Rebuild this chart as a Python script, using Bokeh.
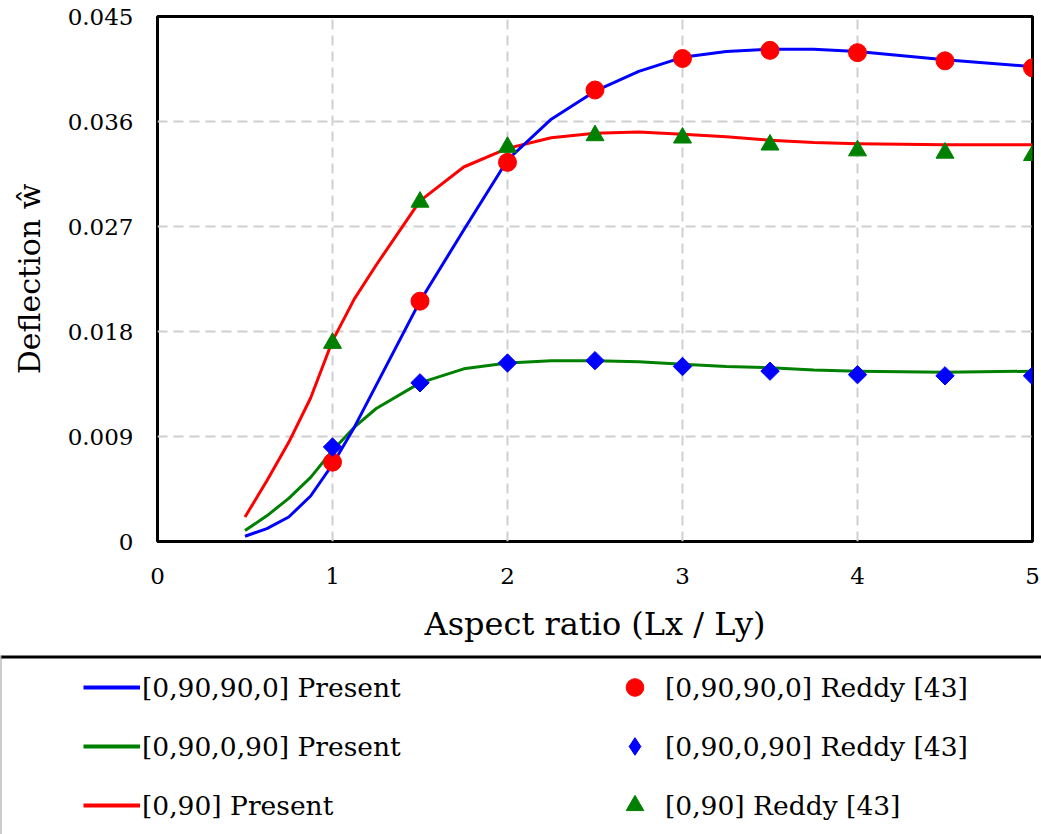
from bokeh.plotting import figure
from bokeh.models import (FixedTicker, CustomJSTickFormatter, Legend, LegendItem, Span)
from bokeh.embed import file_html
from bokeh.resources import INLINE

# ---- data ----
x_present = [0.5, 0.625, 0.75, 0.875, 1.0, 1.125, 1.25, 1.5, 1.75, 2.0, 2.25,
             2.5, 2.75, 3.0, 3.25, 3.5, 3.75, 4.0, 4.5, 5.0]
w_0_90_90_0_present = [0.00045, 0.0011, 0.0021, 0.0039, 0.0066, 0.0098, 0.0134,
                       0.0206, 0.0267, 0.0327, 0.0362, 0.0386, 0.0403, 0.0415,
                       0.0420, 0.0422, 0.0422, 0.0420, 0.0413, 0.0407]
w_0_90_0_90_present = [0.00094, 0.0022, 0.0037, 0.0055, 0.0078, 0.0098, 0.0114,
                       0.0136, 0.0148, 0.0153, 0.0155, 0.0155, 0.0154, 0.0152,
                       0.0150, 0.0149, 0.0147, 0.0146, 0.0145, 0.0146]
w_0_90_present = [0.0021, 0.0052, 0.0085, 0.0123, 0.0172, 0.0208, 0.0237,
                  0.0292, 0.0321, 0.0337, 0.0346, 0.0350, 0.0351, 0.0349,
                  0.0347, 0.0344, 0.0342, 0.0341, 0.0340, 0.0340]

x_reddy = [1.0, 1.5, 2.0, 2.5, 3.0, 3.5, 4.0, 4.5, 5.0]
w_0_90_90_0_reddy = [0.0068, 0.0206, 0.0325, 0.0387, 0.0414, 0.0421, 0.0419,
                     0.0412, 0.0406]
w_0_90_0_90_reddy = [0.0081, 0.0136, 0.0153, 0.0155, 0.0150, 0.0146, 0.0143,
                     0.0142, 0.0142]
w_0_90_reddy = [0.0170, 0.0291, 0.0338, 0.0348, 0.0346, 0.0340, 0.0335,
                0.0333, 0.0331]

x_ticks = [0, 1, 2, 3, 4, 5]
y_ticks = [0, 0.009, 0.018, 0.027, 0.036, 0.045]

labels = ["[0,90,90,0] Present", "[0,90,0,90] Present", "[0,90] Present",
          "[0,90,90,0] Reddy [43]", "[0,90,0,90] Reddy [43]", "[0,90] Reddy [43]"]

FONT = "DejaVu Serif"
BLUE, GREEN, RED = "#0000FF", "#008000", "#FF0000"


def draw_series(fig, lw, diamond_kw):
    rg = fig.line(x_present, w_0_90_0_90_present, line_color=GREEN, line_width=lw,
                  line_join="round")
    rr = fig.line(x_present, w_0_90_present, line_color=RED, line_width=lw,
                  line_join="round")
    rb = fig.line(x_present, w_0_90_90_0_present, line_color=BLUE, line_width=lw,
                  line_join="round")
    mc = fig.scatter(x_reddy, w_0_90_90_0_reddy, marker="circle", size=18,
                     fill_color=RED, line_color=RED)
    md = fig.scatter(x_reddy, w_0_90_0_90_reddy, fill_color=BLUE, line_color=BLUE,
                     **diamond_kw)
    mt = fig.scatter(x_reddy, w_0_90_reddy, marker="triangle", size=18,
                     fill_color=GREEN, line_color=GREEN)
    return [rb, rg, rr, mc, md, mt]


# ---------------- main chart ----------------
p = figure(width=1041, height=655, x_range=(0, 5), y_range=(0, 0.045),
           output_backend="svg", toolbar_location=None,
           min_border_left=157, min_border_right=9, min_border_top=16,
           min_border_bottom=114)
p.background_fill_color = "white"
p.border_fill_color = "white"
p.outline_line_color = "black"
p.outline_line_width = 3

for ax in (p.xaxis[0], p.yaxis[0]):
    ax.axis_line_color = None
    ax.major_tick_line_color = None
    ax.minor_tick_line_color = None
    ax.major_tick_out = 0
    ax.major_tick_in = 0
    ax.major_label_text_font = FONT
    ax.major_label_text_font_size = "23px"
    ax.major_label_text_color = "black"
    ax.axis_label_text_font = FONT
    ax.axis_label_text_font_style = "normal"
    ax.axis_label_text_color = "black"

p.xaxis.ticker = FixedTicker(ticks=x_ticks)
p.yaxis.ticker = FixedTicker(ticks=y_ticks)
p.yaxis.formatter = CustomJSTickFormatter(code="return tick == 0 ? '0' : tick.toFixed(3);")
p.xaxis.axis_label = "Aspect ratio (Lx / Ly)"
p.yaxis.axis_label = "Deflection ŵ"
p.xaxis.axis_label_text_font_size = "32px"
p.yaxis.axis_label_text_font_size = "30px"
p.xaxis.major_label_standoff = 26
p.yaxis.major_label_standoff = 24
p.xaxis.axis_label_standoff = 18
p.yaxis.axis_label_standoff = 18

for g in (p.xgrid[0], p.ygrid[0]):
    g.grid_line_color = "#cfcfcf"
    g.grid_line_width = 2
    g.grid_line_dash = "10 6"

draw_series(p, 3, dict(marker="square", size=13, angle=0.785398))

# ---------------- legend panel (separate root; series lie outside its view) ----------------
q = figure(width=1041, height=179, x_range=(0, 1), y_range=(1, 2),
           output_backend="svg", toolbar_location=None,
           x_axis_type=None, y_axis_type=None,
           min_border_left=0, min_border_right=0, min_border_top=0,
           min_border_bottom=0)
q.xgrid.visible = False
q.ygrid.visible = False
q.outline_line_color = None
q.background_fill_color = "white"
q.border_fill_color = "white"
q.add_layout(Span(location=2, dimension="width", line_color="black", line_width=6))
q.add_layout(Span(location=0, dimension="height", line_color="#9a9a9a", line_width=2))

rends = draw_series(q, 4, dict(marker="diamond", size=18))

legend = Legend(items=[LegendItem(label=lab, renderers=[r]) for lab, r in zip(labels, rends)],
                location=(73, -3), ncols=2)
legend.glyph_width = 57
legend.glyph_height = 44
legend.label_height = 30
legend.label_width = 449
legend.label_standoff = 2
legend.spacing = 15
legend.padding = 10
legend.margin = 0
legend.border_line_alpha = 0
legend.background_fill_alpha = 0
legend.label_text_font = FONT
legend.label_text_font_size = "26.5px"
legend.label_text_color = "black"
q.add_layout(legend, "center")

open("out.html", "w").write(file_html([p, q], INLINE))
